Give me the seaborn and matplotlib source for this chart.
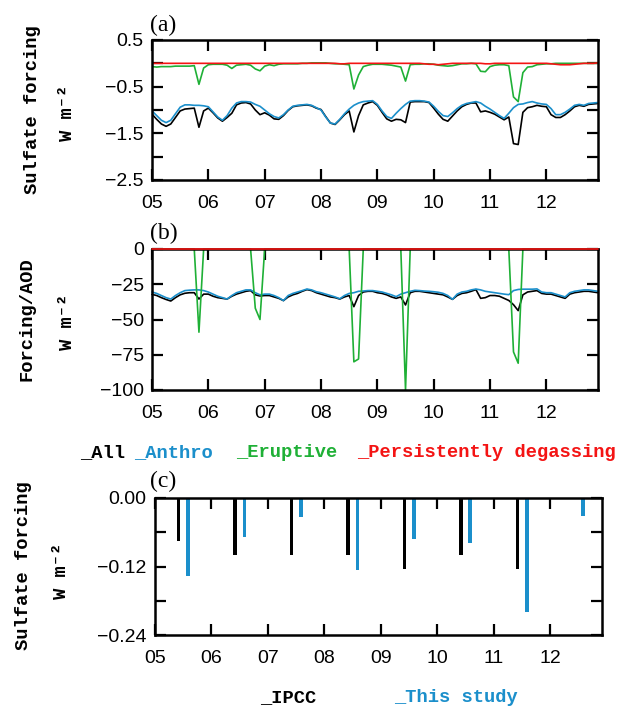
import numpy as np
import pandas as pd
import seaborn as sns
import matplotlib.pyplot as plt

# ---------------- datos ----------------
year_labels = ['05', '06', '07', '08', '09', '10', '11', '12']
series_names = ['All', 'Anthro', 'Eruptive', 'Persistently degassing']
series_colors = ['black', '#1b8fcb', '#1fb036', '#f41414']

# panel (a): forzamiento de sulfato mensual, W m-2 (ene 2005 - dic 2012)
all_a = [
    -1.09, -1.20, -1.30, -1.35, -1.30, -1.16, -1.02, -0.98, -0.97, -0.96, -1.37, -1.02,
    -0.96, -1.06, -1.17, -1.24, -1.16, -1.07, -0.89, -0.85, -0.84, -0.87, -1.00, -1.10,
    -1.06, -1.11, -1.19, -1.20, -1.12, -1.01, -0.93, -0.91, -0.90, -0.89, -0.91, -0.96,
    -0.99, -1.14, -1.28, -1.31, -1.21, -1.10, -1.02, -1.47, -1.12, -0.89, -0.85, -0.82,
    -0.90, -1.05, -1.19, -1.24, -1.20, -1.21, -1.27, -0.83, -0.82, -0.82, -0.82, -0.84,
    -0.96, -1.09, -1.20, -1.24, -1.13, -1.02, -0.93, -0.88, -0.85, -0.85, -1.04, -1.02,
    -1.05, -1.09, -1.15, -1.21, -1.15, -1.72, -1.74, -1.05, -0.95, -0.93, -0.90, -0.92,
    -0.93, -1.10, -1.16, -1.16, -1.10, -1.02, -0.93, -0.90, -0.92, -0.88, -0.87, -0.86,
]
anthro_a = [
    -1.02, -1.12, -1.22, -1.27, -1.22, -1.08, -0.94, -0.89, -0.89, -0.90, -0.90, -0.91,
    -0.93, -1.04, -1.15, -1.22, -1.12, -0.96, -0.85, -0.82, -0.82, -0.83, -0.88, -0.92,
    -1.00, -1.08, -1.14, -1.17, -1.10, -1.00, -0.92, -0.90, -0.89, -0.88, -0.90, -0.95,
    -1.00, -1.15, -1.28, -1.30, -1.20, -1.08, -0.98, -0.90, -0.85, -0.82, -0.81, -0.80,
    -0.88, -1.02, -1.14, -1.18, -1.07, -0.97, -0.88, -0.81, -0.80, -0.80, -0.81, -0.83,
    -0.92, -1.03, -1.12, -1.14, -1.06, -0.97, -0.90, -0.86, -0.84, -0.82, -0.85, -0.92,
    -0.98, -1.05, -1.12, -1.18, -1.07, -0.95, -0.88, -0.87, -0.84, -0.82, -0.85, -0.87,
    -0.88, -0.97, -1.10, -1.10, -1.05, -0.98, -0.90, -0.88, -0.90, -0.86, -0.85, -0.84,
]
eruptive_a = [
    -0.07, -0.08, -0.07, -0.07, -0.07, -0.06, -0.06, -0.06, -0.06, -0.05, -0.45, -0.10,
    -0.03, -0.02, -0.02, -0.02, -0.04, -0.11, -0.04, -0.03, -0.02, -0.04, -0.12, -0.16,
    -0.06, -0.03, -0.05, -0.02, -0.01, -0.01, -0.01, -0.01, 0.00, 0.00, 0.01, 0.01,
    0.01, 0.01, 0.00, -0.01, -0.01, -0.02, -0.03, -0.55, -0.25, -0.07, -0.04, -0.02,
    -0.02, -0.02, -0.03, -0.04, -0.06, -0.08, -0.38, -0.03, -0.02, -0.02, -0.01, -0.01,
    -0.02, -0.04, -0.05, -0.06, -0.05, -0.03, -0.01, -0.01, 0.00, -0.01, -0.17, -0.18,
    -0.07, -0.04, -0.03, -0.03, -0.05, -0.72, -0.82, -0.20, -0.08, -0.07, -0.03, -0.02,
    -0.01, -0.01, 0.00, 0.00, 0.00, 0.00, 0.00, 0.00, 0.00, 0.00, 0.00, 0.00,
]
persistent_a = [
    0.00, 0.00, 0.00, 0.00, 0.00, 0.00, 0.00, 0.00, 0.00, 0.00, 0.00, 0.00,
    0.00, 0.00, 0.00, 0.00, 0.00, 0.00, 0.00, 0.00, 0.00, 0.00, 0.00, 0.00,
    0.00, 0.00, 0.00, 0.00, 0.00, 0.00, 0.00, 0.00, 0.00, 0.00, 0.00, 0.00,
    0.00, 0.00, 0.00, 0.00, -0.01, -0.01, 0.00, 0.00, 0.00, 0.00, 0.00, 0.00,
    0.00, 0.00, 0.00, 0.00, 0.00, 0.00, 0.00, 0.00, 0.00, 0.00, -0.01, -0.02,
    -0.02, -0.03, -0.02, -0.01, 0.00, 0.00, 0.00, 0.00, 0.00, 0.00, 0.00, -0.01,
    -0.01, 0.00, 0.00, 0.00, 0.00, 0.00, 0.00, 0.00, 0.00, 0.00, 0.00, 0.00,
    0.00, -0.01, -0.02, -0.03, -0.03, -0.03, -0.02, -0.01, 0.00, 0.00, 0.00, 0.01,
]

# panel (b): forzamiento / AOD, W m-2
all_b = [
    -32.2, -33.0, -34.5, -35.8, -36.9, -34.5, -32.5, -31.4, -31.0, -31.0, -35.5, -32.0,
    -32.0, -33.5, -34.5, -35.0, -35.5, -33.5, -32.0, -31.0, -30.0, -29.5, -32.5, -33.3,
    -33.0, -33.0, -34.0, -35.0, -36.6, -34.0, -32.5, -31.5, -30.0, -28.8, -29.5, -31.0,
    -32.0, -33.0, -34.0, -34.5, -35.5, -34.0, -33.0, -40.9, -33.0, -30.5, -30.0, -30.0,
    -31.0, -31.5, -32.5, -34.0, -35.0, -34.0, -39.7, -31.0, -30.0, -30.0, -30.5, -31.0,
    -31.5, -32.0, -32.5, -34.0, -35.7, -33.0, -31.5, -31.0, -30.0, -28.8, -35.0, -34.5,
    -33.0, -33.0, -33.5, -35.0, -36.5, -39.5, -43.7, -32.5, -30.5, -30.0, -29.5, -31.5,
    -32.0, -32.0, -33.0, -34.0, -35.0, -32.0, -31.0, -30.5, -30.0, -30.0, -30.5, -31.0,
]
anthro_b = [
    -30.5, -31.5, -33.0, -34.5, -35.5, -33.0, -31.0, -29.5, -29.2, -29.0, -29.0, -29.5,
    -30.5, -32.0, -33.5, -34.5, -35.5, -33.0, -31.0, -30.0, -29.0, -29.0, -31.0, -32.5,
    -32.0, -32.0, -33.0, -34.5, -36.6, -33.0, -31.5, -30.5, -29.5, -28.4, -29.0, -30.3,
    -31.0, -32.0, -33.0, -34.0, -35.3, -33.0, -31.5, -31.0, -30.0, -29.8, -29.5, -29.5,
    -30.0, -30.5, -31.5, -32.5, -33.8, -32.0, -31.0, -30.0, -29.3, -29.5, -29.8, -30.0,
    -30.3, -30.7, -31.5, -33.0, -35.7, -32.0, -30.5, -30.0, -29.0, -28.4, -29.0, -30.0,
    -30.5, -31.0, -31.5, -32.0, -32.4, -29.5, -28.7, -28.5, -28.5, -28.5, -28.3, -30.5,
    -31.0, -31.0, -32.0, -33.0, -34.0, -31.0, -30.0, -29.5, -29.0, -29.0, -29.5, -30.0,
]
eruptive_b = [
    0, 0, 0, 0, 0, 0, 0, 0, 0, 0, -59, 0,
    0, 0, 0, 0, 0, 0, 0, 0, 0, 0, -42, -50,
    0, 0, 0, 0, 0, 0, 0, 0, 0, 0, 0, 0,
    0, 0, 0, 0, 0, 0, 0, -80, -78, 0, 0, 0,
    0, 0, 0, 0, 0, 0, -100, 0, 0, 0, 0, 0,
    0, 0, 0, 0, 0, 0, 0, 0, 0, 0, 0, 0,
    0, 0, 0, 0, 0, -73, -81, 0, 0, 0, 0, 0,
    0, 0, 0, 0, 0, 0, 0, 0, 0, 0, 0, 0,
]
persistent_b = [
    0, 0, 0, 0, 0, 0, 0, 0, 0, 0, 0, 0,
    0, 0, 0, 0, 0, 0, 0, 0, 0, 0, 0, 0,
    0, 0, 0, 0, 0, 0, 0, 0, 0, 0, 0, 0,
    0, 0, 0, 0, 0, 0, 0, 0, 0, 0, 0, 0,
    0, 0, 0, 0, 0, 0, 0, 0, 0, 0, 0, 0,
    0, 0, 0, 0, 0, 0, 0, 0, 0, 0, 0, 0,
    0, 0, 0, 0, 0, 0, 0, 0, 0, 0, 0, 0,
    0, 0, 0, 0, 0, 0, 0, 0, 0, 0, 0, 0,
]

# panel (c): forzamiento anual
bar_sources = ['IPCC', 'This study']
bar_colors = ['black', '#1b8fcb']
ipcc_years = ['05', '06', '07', '08', '09', '10', '11']
ipcc_c = [-0.075, -0.100, -0.100, -0.100, -0.125, -0.100, -0.125]
study_years = ['05', '06', '07', '08', '09', '10', '11', '12']
study_c = [-0.137, -0.069, -0.034, -0.127, -0.072, -0.079, -0.200, -0.031]

# ---------------- figura ----------------
sns.set_style('ticks')
plt.rcParams['font.family'] = ['Liberation Sans', 'DejaVu Sans']
plt.rcParams['axes.linewidth'] = 1.8
plt.rcParams['axes.edgecolor'] = 'black'
plt.rcParams['xtick.color'] = 'black'
plt.rcParams['ytick.color'] = 'black'
plt.rcParams['text.color'] = 'black'

W, H = 625, 708
fig = plt.figure(figsize=(W / 100, H / 100), dpi=100)


def caja(left, top, right, bottom):
    return [left / W, 1 - bottom / H, (right - left) / W, (bottom - top) / H]


def px(x, y):
    return x / W, 1 - y / H


ax_a = fig.add_axes(caja(152, 40, 598, 180))
ax_b = fig.add_axes(caja(152, 249, 598, 390))
ax_c = fig.add_axes(caja(155, 498, 602, 635))

pal = dict(zip(series_names, series_colors))


def df_largo(series):
    frames = []
    for name, vals in zip(series_names, series):
        frames.append(pd.DataFrame({'mes': np.arange(len(vals)), 'valor': vals, 'serie': name}))
    return pd.concat(frames, ignore_index=True)


df_a = df_largo([all_a, anthro_a, eruptive_a, persistent_a])
df_b = df_largo([all_b, anthro_b, eruptive_b, persistent_b])

for ax, df in [(ax_a, df_a), (ax_b, df_b)]:
    sns.lineplot(data=df, x='mes', y='valor', hue='serie', hue_order=series_names,
                 palette=pal, legend=False, errorbar=None, linewidth=1.2, ax=ax)

for ln in ax_b.lines:
    ln.set_clip_on(False)
ax_b.lines[-1].set_zorder(3)

# barras: posicion en meses, a mitad de cada anio
mes_ipcc = [12 * year_labels.index(y) + 6 for y in ipcc_years]
mes_study = [12 * year_labels.index(y) + 6 for y in study_years]
df_c = pd.DataFrame({
    'mes': mes_ipcc + mes_study,
    'valor': ipcc_c + study_c,
    'fuente': ['IPCC'] * len(ipcc_c) + ['This study'] * len(study_c),
})
sns.barplot(data=df_c, x='mes', y='valor', hue='fuente', hue_order=bar_sources,
            palette=dict(zip(bar_sources, bar_colors)), native_scale=True,
            width=1 / 3, gap=0.62, errorbar=None, legend=False, saturation=1,
            linewidth=0, ax=ax_c)


def estilo(ax, ylim, yticks, yminor):
    ax.set_xlim(0, 95)
    ax.set_ylim(*ylim)
    ax.set_xticks(np.arange(0, 96, 12), year_labels)
    ax.set_yticks(yticks)
    ax.set_yticks(yminor, minor=True)
    ax.tick_params(direction='in', top=True, right=True, length=8, width=1.6,
                   labelsize=14, colors='black')
    ax.tick_params(axis='x', pad=11)
    ax.tick_params(axis='y', pad=6)
    ax.tick_params(axis='y', which='minor', direction='in', right=True, length=8, width=1.6)
    for s in ax.spines.values():
        s.set_color('black')
    ax.set_xlabel('')
    ax.set_ylabel('')


estilo(ax_a, (-2.5, 0.5), [0.5, -0.5, -1.5, -2.5], [0.0, -1.0, -2.0])
estilo(ax_b, (-100, 0), [0, -25, -50, -75, -100], [])
estilo(ax_c, (-0.24, 0), [0.0, -0.12, -0.24], [-0.06, -0.18])

# etiquetas de paneles
for lab, y in [('(a)', 31), ('(b)', 239), ('(c)', 487)]:
    fig.text(*px(150, y), lab, fontfamily='Liberation Serif', fontsize=17, va='baseline')

# titulos de ejes
mono = dict(fontfamily=['Liberation Mono', 'DejaVu Sans Mono'], fontweight='bold',
            fontsize=13.5, rotation=90, ha='center', va='center')
fig.text(*px(33, 110), 'Sulfate forcing', **mono)
fig.text(*px(68, 113), 'W m⁻²', **mono)
fig.text(*px(27, 319), 'Forcing/AOD', **mono)
fig.text(*px(67, 322), 'W m⁻²', **mono)
fig.text(*px(24, 566), 'Sulfate forcing', **mono)
fig.text(*px(62, 571), 'W m⁻²', **mono)

# leyendas de texto
leg = dict(fontfamily=['Liberation Mono', 'DejaVu Sans Mono'], fontweight='bold',
           fontsize=13.5, va='baseline')
for name, col, x in zip(series_names, series_colors, [80, 134, 236, 357]):
    fig.text(*px(x, 457), '_' + name, color=col, **leg)
for name, col, x in zip(bar_sources, bar_colors, [260, 394]):
    fig.text(*px(x, 702), '_' + name, color=col, **leg)

fig.savefig('out.png', dpi=100)
